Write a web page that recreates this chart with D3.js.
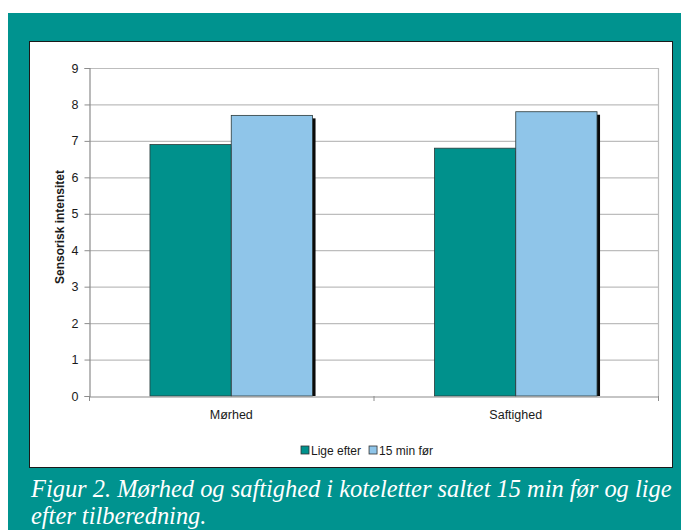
<!DOCTYPE html>
<html><head><meta charset="utf-8">
<script src="https://cdn.jsdelivr.net/npm/d3@7"></script>
<style>body{margin:0;background:#fff;}svg{display:block;}</style>
</head><body>
<svg id="c" width="681" height="530"></svg>
<script>
const categories = ["Mørhed", "Saftighed"];
const seriesNames = ["Lige efter", "15 min før"];
const ligeEfter = [6.9, 6.8];
const femtenMinFoer = [7.7, 7.8];
const yTicks = [0,1,2,3,4,5,6,7,8,9];
const yTitle = "Sensorisk intensitet";
const captionLines = ["Figur 2. Mørhed og saftighed i koteletter saltet 15 min før og lige", "efter tilberedning."];
const colors = ["#00918c", "#8fc5e9"];

const svg = d3.select("#c");
svg.append("rect").attr("x",8).attr("y",13).attr("width",673).attr("height",517).attr("fill","#00938f");
svg.append("rect").attr("x",29.5).attr("y",41.5).attr("width",643).attr("height",426)
  .attr("fill","#fff").attr("stroke","#1a1a1a").attr("stroke-width",1);

const m = {l:89, r:658, t:68, b:396};
const x0 = d3.scaleBand().domain(categories).range([m.l, m.r]).paddingInner(0).paddingOuter(0);
const y = d3.scaleLinear().domain([0,9]).range([m.b, m.t]);
const bw = x0.bandwidth()*2/(2+1.5);
const x1 = d3.scaleBand().domain(seriesNames).range([0, bw]);

svg.append("g").selectAll("line").data(yTicks.filter(d=>d>0)).join("line")
  .attr("x1",m.l).attr("x2",m.r).attr("y1",d=>y(d)+0.5).attr("y2",d=>y(d)+0.5)
  .attr("stroke","#bdbdbd").attr("stroke-width",1.2);
svg.append("line").attr("x1",m.r+0.5).attr("x2",m.r+0.5).attr("y1",m.t).attr("y2",m.b)
  .attr("stroke","#bdbdbd").attr("stroke-width",1.2);

const rows = categories.map((c,i)=>({cat:c, vals:[ligeEfter[i], femtenMinFoer[i]]}));
const gBars = svg.append("g");
rows.forEach(r=>{
  const start = x0(r.cat) + (x0.bandwidth()-bw)/2;
  r.vals.forEach((v,j)=>{
    gBars.append("rect").attr("x",start+x1(seriesNames[j])+3).attr("y",y(v)+3)
      .attr("width",x1.bandwidth()).attr("height",m.b-y(v)-3).attr("fill","#0a0a0a");
  });
  r.vals.forEach((v,j)=>{
    gBars.append("rect").attr("x",start+x1(seriesNames[j])).attr("y",y(v))
      .attr("width",x1.bandwidth()).attr("height",m.b-y(v))
      .attr("fill",colors[j]).attr("stroke","#2b3a3a").attr("stroke-width",0.8);
  });
});

const tickFont = "12.5px Arial, 'Liberation Sans', sans-serif";
const yAxis = d3.axisLeft(y).tickValues(yTicks).tickSize(5).tickPadding(6).tickFormat(d3.format("d"));
const ga = svg.append("g").attr("transform",`translate(${m.l+0.5},0)`).call(yAxis);
ga.select(".domain").attr("stroke","#8c8c8c").attr("stroke-width",1.2);
ga.selectAll(".tick line").attr("stroke","#8c8c8c");
ga.selectAll(".tick text").attr("fill","#1a1a1a").style("font",tickFont);

const xAxis = d3.axisBottom(x0).tickSize(0).tickPadding(14);
const gx = svg.append("g").attr("transform",`translate(0,${m.b+0.5})`).call(xAxis);
gx.select(".domain").attr("stroke","#8c8c8c").attr("stroke-width",1.2);
gx.selectAll(".tick text").attr("fill","#1a1a1a").style("font",tickFont);
svg.append("g").selectAll("line").data(categories).join("line")
  .attr("x1",d=>x0(d)+0.5).attr("x2",d=>x0(d)+0.5).attr("y1",m.b).attr("y2",m.b+5)
  .attr("stroke","#8c8c8c");
svg.append("line").attr("x1",m.r+0.5).attr("x2",m.r+0.5).attr("y1",m.b).attr("y2",m.b+5).attr("stroke","#8c8c8c");

svg.append("text").attr("transform","translate(64,227) rotate(-90)")
  .attr("text-anchor","middle").attr("fill","#1a1a1a")
  .style("font","bold 12px Arial, 'Liberation Sans', sans-serif").text(yTitle);

const lg = svg.append("g").attr("transform","translate(301,450)");
let lx = 0;
seriesNames.forEach((s,j)=>{
  lg.append("rect").attr("x",lx).attr("y",-4).attr("width",8).attr("height",8)
    .attr("fill",colors[j]).attr("stroke","#333").attr("stroke-width",0.8);
  const t = lg.append("text").attr("x",lx+10).attr("y",4.5).attr("fill","#1a1a1a")
    .style("font","12px Arial, 'Liberation Sans', sans-serif").text(s);
  lx += 10 + t.node().getComputedTextLength() + 8;
});

const capFont = "'Liberation Serif', serif";
const caps = captionLines.map((t,i)=>svg.append("text").attr("x",31).attr("y",497+i*27).attr("fill","#ffffff")
  .style("font-family",capFont).style("font-style","italic").style("font-size","22px").text(t));
const w0 = caps[0].node().getComputedTextLength();
const fs = 22*641/w0;
caps.forEach(c=>c.style("font-size",fs+"px"));
</script>
</body></html>
